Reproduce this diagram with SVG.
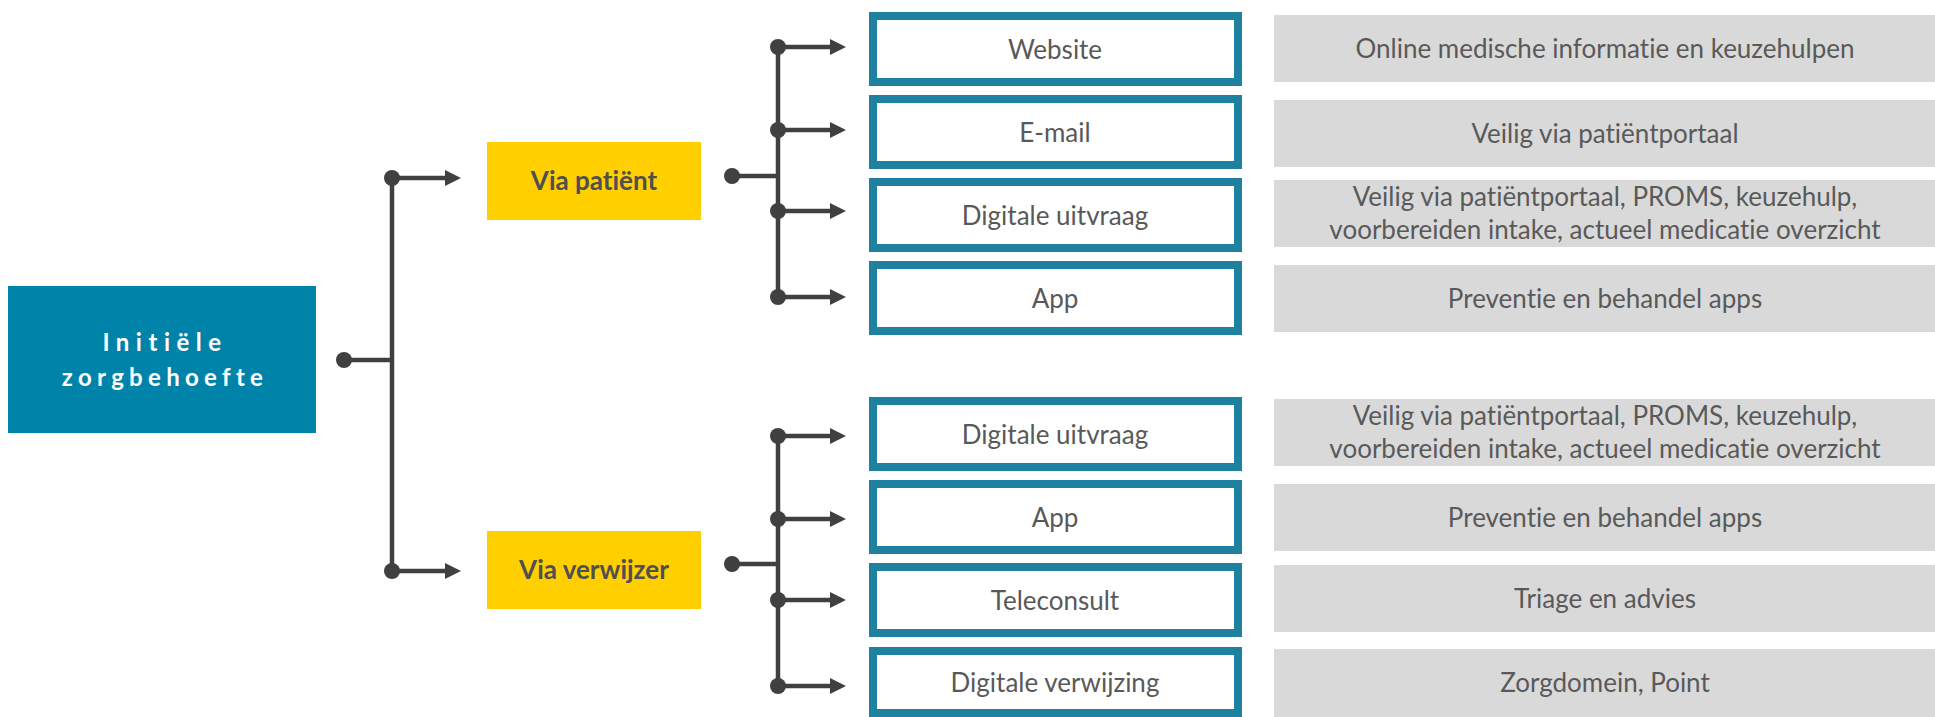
<svg xmlns="http://www.w3.org/2000/svg" width="1935" height="717" viewBox="0 0 1935 717">
<style>
  .bg { fill: #ffffff; }
  .root { fill: #0083A9; }
  .via { fill: #FFCF00; }
  .chan { fill: #ffffff; stroke: #1E81A0; stroke-width: 8; }
  .desc { fill: #D9D9D9; }
  text { font-variant-ligatures: none; }
  .t { font-family: Lato, "Liberation Sans", sans-serif; font-size: 26px; fill: #595959; text-anchor: middle; }
  .tb { font-family: Lato, "Liberation Sans", sans-serif; font-size: 26px; font-weight: bold; fill: #4F4F4F; text-anchor: middle; }
  .tr { font-family: Lato, "Liberation Sans", sans-serif; font-size: 24px; font-weight: bold; fill: #ffffff; text-anchor: middle; letter-spacing: 5.3px; }
  .ln { stroke: #404040; stroke-width: 4.5; fill: none; }
  .ar { stroke: #404040; stroke-width: 4.5; fill: none; marker-end: url(#arrow); }
  .dot { fill: #404040; }
</style>
<defs>
  <marker id="arrow" markerUnits="userSpaceOnUse" markerWidth="16" markerHeight="16" refX="1" refY="8" orient="auto">
    <path d="M0,0 L16,8 L0,16 z" fill="#404040"/>
  </marker>
</defs>
<rect class="bg" x="0" y="0" width="1935" height="717"/>

<g id="connectors">
  <line class="ln" x1="344" y1="360" x2="392" y2="360"/>
  <line class="ln" x1="392" y1="178" x2="392" y2="571"/>
  <line class="ar" x1="392" y1="178" x2="446" y2="178"/>
  <line class="ar" x1="392" y1="571" x2="446" y2="571"/>
  <circle class="dot" cx="344" cy="360" r="8"/>
  <circle class="dot" cx="392" cy="178" r="8"/>
  <circle class="dot" cx="392" cy="571" r="8"/>
  <line class="ln" x1="732" y1="176" x2="778" y2="176"/>
  <line class="ln" x1="778" y1="47" x2="778" y2="297"/>
  <line class="ar" x1="778" y1="47" x2="831" y2="47"/>
  <line class="ar" x1="778" y1="130" x2="831" y2="130"/>
  <line class="ar" x1="778" y1="211" x2="831" y2="211"/>
  <line class="ar" x1="778" y1="297" x2="831" y2="297"/>
  <circle class="dot" cx="732" cy="176" r="8"/>
  <circle class="dot" cx="778" cy="47" r="8"/>
  <circle class="dot" cx="778" cy="130" r="8"/>
  <circle class="dot" cx="778" cy="211" r="8"/>
  <circle class="dot" cx="778" cy="297" r="8"/>
  <line class="ln" x1="732" y1="564" x2="778" y2="564"/>
  <line class="ln" x1="778" y1="436" x2="778" y2="686"/>
  <line class="ar" x1="778" y1="436" x2="831" y2="436"/>
  <line class="ar" x1="778" y1="519" x2="831" y2="519"/>
  <line class="ar" x1="778" y1="600" x2="831" y2="600"/>
  <line class="ar" x1="778" y1="686" x2="831" y2="686"/>
  <circle class="dot" cx="732" cy="564" r="8"/>
  <circle class="dot" cx="778" cy="436" r="8"/>
  <circle class="dot" cx="778" cy="519" r="8"/>
  <circle class="dot" cx="778" cy="600" r="8"/>
  <circle class="dot" cx="778" cy="686" r="8"/>
</g>

<g id="node-root">
  <rect class="root" x="8" y="286" width="308" height="147"/>
  <text class="tr" x="165" y="351" style="letter-spacing:6.5px">Initiële</text>
  <text class="tr" x="165" y="386">zorgbehoefte</text>
</g>

<g id="node-via-patient">
  <rect class="via" x="487" y="142" width="214" height="78"/>
  <text class="tb" x="594" y="190">Via patiënt</text>
</g>
<g id="node-via-verwijzer">
  <rect class="via" x="487" y="531" width="214" height="78"/>
  <text class="tb" x="594" y="579">Via verwijzer</text>
</g>

<g id="node-website">
  <rect class="chan" x="873" y="16" width="365" height="66"/>
  <text class="t" x="1055" y="59">Website</text>
</g>
<g id="node-email">
  <rect class="chan" x="873" y="99" width="365" height="66"/>
  <text class="t" x="1055" y="142">E-mail</text>
</g>
<g id="node-uitvraag-1">
  <rect class="chan" x="873" y="182" width="365" height="66"/>
  <text class="t" x="1055" y="225">Digitale uitvraag</text>
</g>
<g id="node-app-1">
  <rect class="chan" x="873" y="265" width="365" height="66"/>
  <text class="t" x="1055" y="308">App</text>
</g>
<g id="node-uitvraag-2">
  <rect class="chan" x="873" y="401" width="365" height="66"/>
  <text class="t" x="1055" y="444">Digitale uitvraag</text>
</g>
<g id="node-app-2">
  <rect class="chan" x="873" y="484" width="365" height="66"/>
  <text class="t" x="1055" y="527">App</text>
</g>
<g id="node-teleconsult">
  <rect class="chan" x="873" y="567" width="365" height="66"/>
  <text class="t" x="1055" y="610">Teleconsult</text>
</g>
<g id="node-verwijzing">
  <rect class="chan" x="873" y="651" width="365" height="62"/>
  <text class="t" x="1055" y="692">Digitale verwijzing</text>
</g>

<g id="desc-website">
  <rect class="desc" x="1274" y="15" width="661" height="67"/>
  <text class="t" x="1605" y="58">Online medische informatie en keuzehulpen</text>
</g>
<g id="desc-email">
  <rect class="desc" x="1274" y="100" width="661" height="67"/>
  <text class="t" x="1605" y="143">Veilig via patiëntportaal</text>
</g>
<g id="desc-uitvraag-1">
  <rect class="desc" x="1274" y="180" width="661" height="67"/>
  <text class="t" x="1605" y="206">Veilig via patiëntportaal, PROMS, keuzehulp,</text>
  <text class="t" x="1605" y="239">voorbereiden intake, actueel medicatie overzicht</text>
</g>
<g id="desc-app-1">
  <rect class="desc" x="1274" y="265" width="661" height="67"/>
  <text class="t" x="1605" y="308">Preventie en behandel apps</text>
</g>
<g id="desc-uitvraag-2">
  <rect class="desc" x="1274" y="399" width="661" height="67"/>
  <text class="t" x="1605" y="425">Veilig via patiëntportaal, PROMS, keuzehulp,</text>
  <text class="t" x="1605" y="458">voorbereiden intake, actueel medicatie overzicht</text>
</g>
<g id="desc-app-2">
  <rect class="desc" x="1274" y="484" width="661" height="67"/>
  <text class="t" x="1605" y="527">Preventie en behandel apps</text>
</g>
<g id="desc-teleconsult">
  <rect class="desc" x="1274" y="565" width="661" height="67"/>
  <text class="t" x="1605" y="608">Triage en advies</text>
</g>
<g id="desc-verwijzing">
  <rect class="desc" x="1274" y="649" width="661" height="68"/>
  <text class="t" x="1605" y="692">Zorgdomein, Point</text>
</g>
</svg>
